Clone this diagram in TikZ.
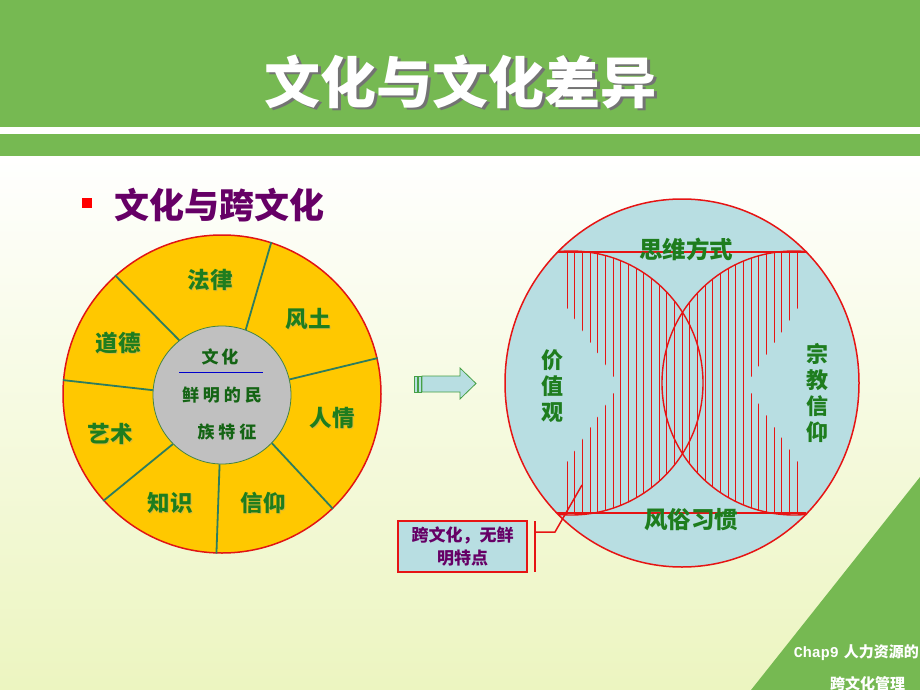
\documentclass[tikz,border=0pt]{standalone}
\usepackage{fontspec}
\setmainfont{Noto Sans CJK SC}
\newfontfamily\monofont{Liberation Mono}
\definecolor{bandgreen}{RGB}{118,185,82}
\definecolor{paleyel}{RGB}{236,245,192}
\definecolor{gold}{RGB}{255,200,0}
\definecolor{wheelred}{RGB}{225,20,20}
\definecolor{spokecol}{RGB}{45,125,95}
\definecolor{txtgreen}{RGB}{30,125,30}
\definecolor{innergreen}{RGB}{20,100,20}
\definecolor{innergray}{RGB}{192,192,192}
\definecolor{lblue}{RGB}{184,222,226}
\definecolor{hred}{RGB}{230,20,20}
\definecolor{purp}{RGB}{102,0,102}
\definecolor{arrowgreen}{RGB}{70,160,70}
\definecolor{shadowyel}{RGB}{215,185,60}
\tikzset{
  wlabel/.style={font=\fontsize{22.5}{22.5}\selectfont\bfseries, text=txtgreen, inner sep=0},
  wshadow/.style={font=\fontsize{22.5}{22.5}\selectfont\bfseries, text=shadowyel, inner sep=0},
  ilabel/.style={font=\fontsize{17}{17}\selectfont\bfseries, text=innergreen, inner sep=0},
  spokeline/.style={draw=spokecol, line width=1.8pt},
  rlabel/.style={font=\fontsize{23.5}{23.5}\selectfont\bfseries, text=txtgreen, inner sep=0},
  vlabel/.style={font=\fontsize{22}{26}\selectfont\bfseries, text=txtgreen, inner sep=0, align=center},
  hatch/.style={draw=hred, line width=0.9pt},
  redline/.style={draw=hred, line width=1.8pt},
  arcline/.style={draw=hred, line width=1.4pt},
}
\begin{document}
\begin{tikzpicture}[x=1pt,y=-1pt]
\useasboundingbox (0,0) rectangle (920,690);
% background
\shade[top color=white, bottom color=paleyel] (0,150) rectangle (920,690);
\fill[bandgreen] (0,0) rectangle (920,127);
\fill[white] (0,127) rectangle (920,134);
\fill[bandgreen] (0,134) rectangle (920,156);
\fill[bandgreen] (920,477) -- (920,690) -- (751,690) -- cycle;
% title
\node[font=\fontsize{56}{56}\selectfont\bfseries, text=black!55, inner sep=0] (titleshadow) at (463,84) {文化与文化差异};
\node[font=\fontsize{56}{56}\selectfont\bfseries, text=white, inner sep=0] (title) at (460.5,81.5) {文化与文化差异};
% subtitle
\fill[red] (82,198) rectangle (92,208);
\node[font=\fontsize{35}{35}\selectfont\bfseries, text=purp, inner sep=0, anchor=west] (sub) at (114,205) {文化与跨文化};
% wheel
\node[circle, draw=wheelred, fill=gold, line width=1.5pt, minimum size=318pt, inner sep=0] (outer) at (222,394) {};
\node[circle, draw=innergreen!80, fill=innergray, line width=0.8pt, minimum size=138pt, inner sep=0] (inner) at (222,395) {};
\draw[spokeline] (inner.70.5) -- (outer.72.8);
\draw[spokeline] (inner.13) -- (outer.13.7);
\draw[spokeline] (inner.-44) -- (outer.-46);
\draw[spokeline] (inner.-92.5) -- (outer.-92);
\draw[spokeline] (inner.-135) -- (outer.-138);
\draw[spokeline] (inner.176.7) -- (outer.175.7);
\draw[spokeline] (inner.128.5) -- (outer.132);
% wheel labels
\foreach \n/\x/\y/\t in {fl/210/280/法律, ft/308/319/风土, rq/332/418/人情, xy/263/503/信仰, zs/170/503/知识, ys/110/434/艺术, dd/118/343/道德}{
  \node[wshadow] (\n s) at (\x+1.2,\y+1.2) {\t};
  \node[wlabel] (\n) at (\x,\y) {\t};
}
\node[ilabel] (wh) at (220,357) {文\hspace{3pt}化};
\draw[blue!80!black, line width=0.8pt] (179,372) -- (263,372);
\node[ilabel] (xm) at (222,395) {鲜\hspace{4pt}明\hspace{4pt}的\hspace{4pt}民};
\node[ilabel] (zt) at (227,432) {族\hspace{4pt}特\hspace{4pt}征};
% block arrow
\draw[arrowgreen, fill=lblue, line width=0.8pt] (422,376) -- (460,376) -- (460,368) -- (476,383.5) -- (460,399) -- (460,392) -- (422,392) -- cycle;
\draw[arrowgreen, fill=lblue, line width=0.8pt] (414,376) rectangle (417,392);
\draw[arrowgreen, fill=lblue, line width=0.8pt] (418.5,376) rectangle (421,392);
% right figure
\fill[lblue] (682,383) ellipse [x radius=177, y radius=184];
\begin{scope}
  \clip (571,383) circle (132) (794,383) circle (132);
  \clip (0,252) rectangle (920,513);
  \foreach \i in {0,...,30}{
    \draw[hatch] (567+7.67*\i,252) -- (567+7.67*\i,513);
  }
\end{scope}
\fill[lblue] (563,302) -- (619,385) -- (563,468) -- cycle;
\fill[lblue] (802,302) -- (746,385) -- (802,468) -- cycle;
\begin{scope}
  \clip (558,240) rectangle (807,525);
  \draw[arcline] (571,383) circle (132);
  \draw[arcline] (794,383) circle (132);
\end{scope}
\draw[redline] (558,252) -- (807,252);
\draw[redline] (557,513) -- (806,513);
\draw[draw=hred, line width=1.5pt] (682,383) ellipse [x radius=177, y radius=184];
\node[rlabel] (sw) at (686,249) {思维方式};
\node[rlabel] (fs) at (691,520) {风俗习惯};
\node[vlabel] (jz) at (552,386) {价\\值\\观};
\node[vlabel] (zj) at (817,393) {宗\\教\\信\\仰};
% callout
\node[draw=hred, fill=lblue, line width=1.8pt, minimum width=129pt, minimum height=51pt, inner sep=0, align=center,
      font=\fontsize{17}{23}\selectfont\bfseries, text=purp] (call) at (462.5,546.5) {跨文化，无鲜\\明特点};
\coordinate (lt) at (535,521);
\coordinate (lb) at (535,572);
\coordinate (lm) at (535,532);
\coordinate (lk) at (555,532);
\coordinate (lend) at (582,485);
\draw[draw=hred, line width=1.5pt] (lt) -- (lb);
\draw[draw=hred, line width=1.5pt] (lm) -- (lk) -- (lend);
% footer
\node[font=\fontsize{15}{15}\selectfont\bfseries, text=white, inner sep=0, anchor=east] (foot1) at (919,653) {{\monofont\bfseries Chap9}\hspace{5pt}人力资源的};
\node[font=\fontsize{15}{15}\selectfont\bfseries, text=white, inner sep=0, anchor=west] (foot2) at (830,684) {跨文化管理};
\end{tikzpicture}
\end{document}
